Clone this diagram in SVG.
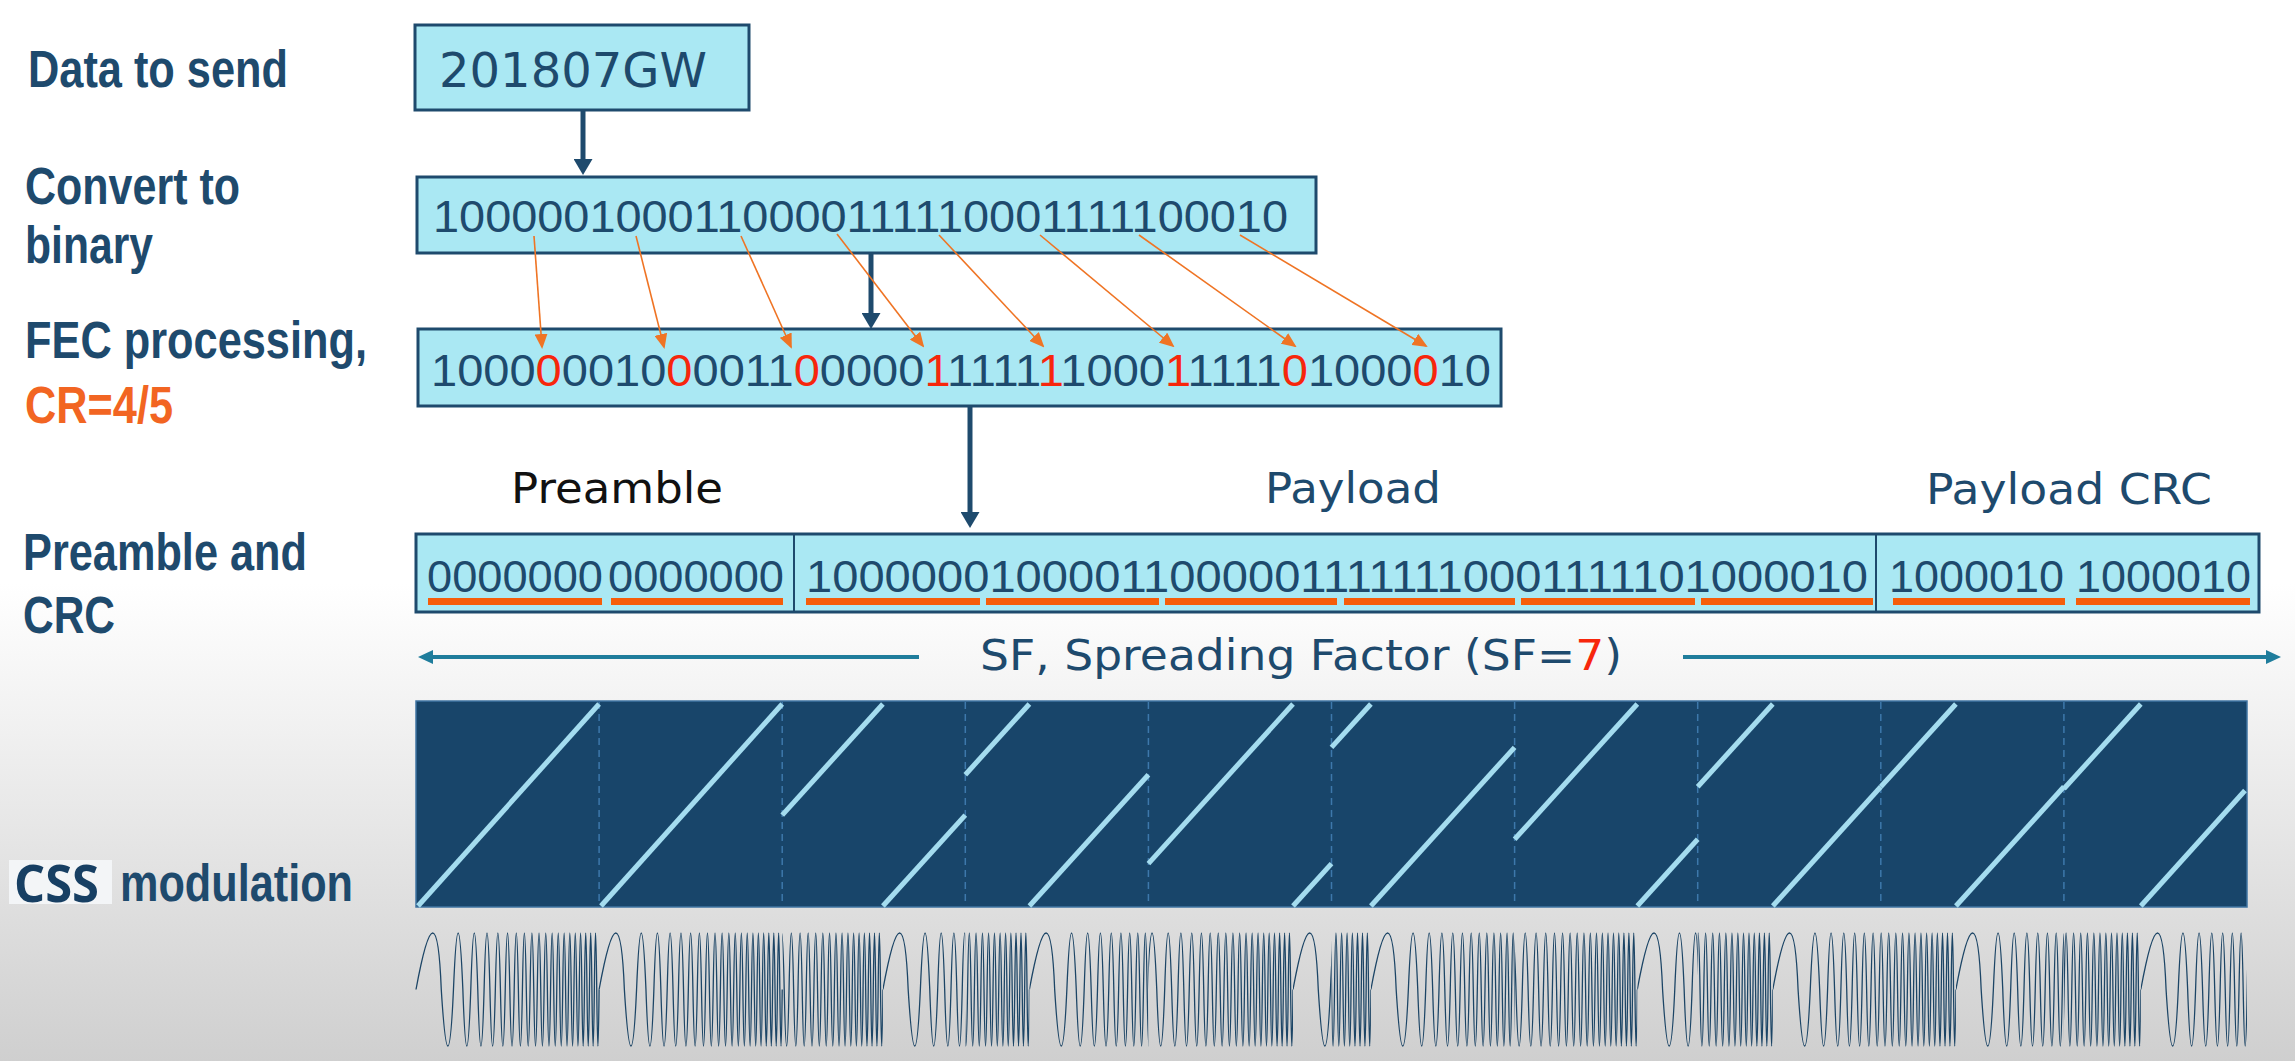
<svg xmlns="http://www.w3.org/2000/svg" xmlns:xlink="http://www.w3.org/1999/xlink" width="2295" height="1061" viewBox="0 0 2295 1061">
<defs>
<linearGradient id="bg" x1="0" y1="0" x2="0" y2="1">
<stop offset="0" stop-color="#ffffff"/>
<stop offset="0.55" stop-color="#ffffff"/>
<stop offset="1" stop-color="#cfcfcf"/>
</linearGradient>
<marker id="ah" viewBox="0 0 16 19" refX="6" refY="9.5" markerWidth="16" markerHeight="19" markerUnits="userSpaceOnUse" orient="auto"><path d="M0,0L16,9.5L0,19z" fill="#1e4a6d"/></marker>
<marker id="th" viewBox="0 0 15 14" refX="5" refY="7" markerWidth="15" markerHeight="14" markerUnits="userSpaceOnUse" orient="auto"><path d="M0,0L15,7L0,14z" fill="#1f7d9c"/></marker>
<marker id="oh" viewBox="0 0 15 13" refX="13" refY="6.5" markerWidth="15" markerHeight="13" markerUnits="userSpaceOnUse" orient="auto"><path d="M0,0L15,6.5L0,13z" fill="#ef7424"/></marker>
<path id="chirp" transform="scale(0.1831,1.13)" vector-effect="non-scaling-stroke" fill="none" stroke="#1c4566" stroke-width="1.3" d="M0,0 Q113.8,-100 138,0 Q176.9,100 204.6,0 Q230.3,-100 255.9,0 Q277.6,100 299.2,0 Q318.3,-100 337.4,0 Q354.7,100 371.9,0 Q387.8,-100 403.7,0 Q418.5,100 433.3,0 Q447.2,-100 461.1,0 Q474.3,100 487.4,0 Q499.9,-100 512.4,0 Q524.4,100 536.3,0 Q547.8,-100 559.2,0 Q570.2,100 581.2,0 Q591.9,-100 602.5,0 Q612.8,100 623.1,0 Q633.1,-100 643.1,0 Q652.8,100 662.4,0 Q671.9,-100 681.3,0 Q690.5,100 699.6,0 Q708.6,-100 717.5,0 Q726.3,100 735,0 Q743.6,-100 752.1,0 Q760.5,100 768.8,0 Q777,-100 785.2,0 Q793.3,100 801.3,0 Q809.2,-100 817,0 Q824.8,100 832.5,0 Q840.1,-100 847.7,0 Q855.2,100 862.6,0 Q870,-100 877.3,0 Q884.5,100 891.7,0 Q898.9,-100 906,0 Q913,100 920,0 Q926.9,-100 933.8,0 Q940.6,100 947.4,0 Q954.1,-100 960.8,0 Q967.4,100 974,0 Q980.6,-100 987.1,0 Q993.6,100 1000,0"/>
</defs>
<style>
.lbl{font-family:"Liberation Sans",Arial,sans-serif;font-weight:bold;font-size:51px;fill:#1e4a6d}
.box{fill:#aae8f3;stroke:#1e4a6d;stroke-width:3}
.bits{font-family:"Liberation Sans",Arial,sans-serif;font-size:45px;fill:#1e4a6d}
.sec{font-family:"DejaVu Sans","Liberation Sans",sans-serif;font-size:43px;fill:#1e4a6d}
.red{fill:#f7260c}
.ul{fill:#f55d0a}
.cl{stroke:#a4dcef;stroke-width:5}
.dv{stroke:#3d78ab;stroke-width:1.5;stroke-dasharray:7 5}
.darr{stroke:#1e4a6d;stroke-width:5;marker-end:url(#ah)}
.tarr{stroke:#1f7d9c;stroke-width:4;marker-end:url(#th)}
.oarr{stroke:#ef7424;stroke-width:1.6;marker-end:url(#oh)}
</style>
<rect x="0" y="0" width="2295" height="1061" fill="url(#bg)"/>

<g id="labels">
<text class="lbl" x="28" y="87" textLength="260" lengthAdjust="spacingAndGlyphs">Data to send</text>
<text class="lbl" x="25" y="204" textLength="215" lengthAdjust="spacingAndGlyphs">Convert to</text>
<text class="lbl" x="25" y="263" textLength="128" lengthAdjust="spacingAndGlyphs">binary</text>
<text class="lbl" x="25" y="358" textLength="342" lengthAdjust="spacingAndGlyphs">FEC processing,</text>
<text class="lbl" x="25" y="423" textLength="148" lengthAdjust="spacingAndGlyphs" style="fill:#f26522">CR=4/5</text>
<text class="lbl" x="23" y="570" textLength="284" lengthAdjust="spacingAndGlyphs">Preamble and</text>
<text class="lbl" x="23" y="633" textLength="92" lengthAdjust="spacingAndGlyphs">CRC</text>
<rect x="9" y="860" width="103" height="44" fill="#f3f5f7"/>
<text x="14" y="902" textLength="85" lengthAdjust="spacingAndGlyphs" style="font-family:'Open Sans','Liberation Sans',sans-serif;font-weight:bold;font-size:52px;fill:#173f63">CSS</text>
<text class="lbl" x="120" y="901" textLength="233" lengthAdjust="spacingAndGlyphs">modulation</text>
</g>

<g id="data-box">
<rect class="box" x="415" y="25" width="334" height="85"/>
<text x="439" y="87" textLength="268" lengthAdjust="spacingAndGlyphs" style="font-family:'DejaVu Sans','Liberation Sans',sans-serif;font-size:48px;fill:#1e4a6d">201807GW</text>
</g>

<g id="binary-box">
<rect class="box" x="417" y="177" width="899" height="76"/>
<text class="bits" x="433" y="232" textLength="855" lengthAdjust="spacingAndGlyphs">1000001000110000111110001111100010</text>
</g>

<g id="fec-box">
<rect class="box" x="418" y="329" width="1083" height="77"/>
<text class="bits" x="431" y="386" textLength="1060" lengthAdjust="spacingAndGlyphs">1000<tspan class="red">0</tspan>0010<tspan class="red">0</tspan>0011<tspan class="red">0</tspan>0000<tspan class="red">1</tspan>1111<tspan class="red">1</tspan>1000<tspan class="red">1</tspan>1111<tspan class="red">0</tspan>1000<tspan class="red">0</tspan>10</text>
</g>

<g id="packet-box">
<text class="sec" x="511" y="503" textLength="212" lengthAdjust="spacingAndGlyphs" style="fill:#111111">Preamble</text>
<text class="sec" x="1265" y="503" textLength="176" lengthAdjust="spacingAndGlyphs">Payload</text>
<text class="sec" x="1926" y="504" textLength="286" lengthAdjust="spacingAndGlyphs">Payload CRC</text>
<rect class="box" x="416" y="534" width="1843" height="78"/>
<line x1="794" y1="534" x2="794" y2="612" stroke="#1e4a6d" stroke-width="2"/>
<line x1="1876" y1="534" x2="1876" y2="612" stroke="#1e4a6d" stroke-width="2"/>
<text class="bits" x="427" y="592" textLength="176" lengthAdjust="spacingAndGlyphs">0000000</text>
<text class="bits" x="608" y="592" textLength="176" lengthAdjust="spacingAndGlyphs">0000000</text>
<text class="bits" x="806" y="592" textLength="1062" lengthAdjust="spacingAndGlyphs">100000010000110000011111110001111101000010</text>
<text class="bits" x="1889" y="592" textLength="175" lengthAdjust="spacingAndGlyphs">1000010</text>
<text class="bits" x="2076" y="592" textLength="175" lengthAdjust="spacingAndGlyphs">1000010</text>
<rect class="ul" x="428" y="598" width="174" height="7"/>
<rect class="ul" x="611" y="598" width="172" height="7"/>
<rect class="ul" x="806" y="598" width="174" height="7"/>
<rect class="ul" x="986" y="598" width="173" height="7"/>
<rect class="ul" x="1165" y="598" width="172" height="7"/>
<rect class="ul" x="1344" y="598" width="171" height="7"/>
<rect class="ul" x="1521" y="598" width="174" height="7"/>
<rect class="ul" x="1701" y="598" width="172" height="7"/>
<rect class="ul" x="1893" y="598" width="172" height="7"/>
<rect class="ul" x="2076" y="598" width="174" height="7"/>
</g>

<g id="sf-label">
<text class="sec" x="980" y="670" textLength="642" lengthAdjust="spacingAndGlyphs">SF, Spreading Factor (SF=<tspan class="red">7</tspan>)</text>
</g>

<g id="chirp-chart">
<rect x="416" y="701" width="1831" height="206" fill="#18456a" stroke="#3f74a2" stroke-width="1.5"/>
<line class="dv" x1="599.1" y1="702" x2="599.1" y2="906"/>
<line class="dv" x1="782.2" y1="702" x2="782.2" y2="906"/>
<line class="dv" x1="965.3" y1="702" x2="965.3" y2="906"/>
<line class="dv" x1="1148.4" y1="702" x2="1148.4" y2="906"/>
<line class="dv" x1="1331.5" y1="702" x2="1331.5" y2="906"/>
<line class="dv" x1="1514.6" y1="702" x2="1514.6" y2="906"/>
<line class="dv" x1="1697.7" y1="702" x2="1697.7" y2="906"/>
<line class="dv" x1="1880.8" y1="702" x2="1880.8" y2="906"/>
<line class="dv" x1="2063.9" y1="702" x2="2063.9" y2="906"/>
<line class="cl" x1="418" y1="906" x2="599.1" y2="704"/>
<line class="cl" x1="601" y1="906" x2="782.2" y2="704"/>
<line class="cl" x1="782.2" y1="815.1" x2="882.9" y2="704"/>
<line class="cl" x1="882.9" y1="906" x2="965.3" y2="815.1"/>
<line class="cl" x1="965.3" y1="774.7" x2="1029.4" y2="704"/>
<line class="cl" x1="1029.4" y1="906" x2="1148.4" y2="774.7"/>
<line class="cl" x1="1148.4" y1="863.6" x2="1293" y2="704"/>
<line class="cl" x1="1293" y1="906" x2="1331.5" y2="863.6"/>
<line class="cl" x1="1331.5" y1="747.4" x2="1370.9" y2="704"/>
<line class="cl" x1="1370.9" y1="906" x2="1514.6" y2="747.4"/>
<line class="cl" x1="1514.6" y1="839.3" x2="1637.3" y2="704"/>
<line class="cl" x1="1637.3" y1="906" x2="1697.7" y2="839.3"/>
<line class="cl" x1="1697.7" y1="786.8" x2="1772.8" y2="704"/>
<line class="cl" x1="1772.8" y1="906" x2="1880.8" y2="786.8"/>
<line class="cl" x1="1880.8" y1="786.8" x2="1955.9" y2="704"/>
<line class="cl" x1="1955.9" y1="906" x2="2063.9" y2="786.8"/>
<line class="cl" x1="2063.9" y1="788.8" x2="2140.8" y2="704"/>
<line class="cl" x1="2140.8" y1="906" x2="2245" y2="790.5"/>
</g>

<g id="waveform">
<use href="#chirp" x="416" y="989.5"/>
<use href="#chirp" x="599.1" y="989.5"/>
<svg x="782.2" y="920" width="100.7" height="140"><use href="#chirp" x="-82.4" y="69.5"/></svg>
<svg x="882.9" y="920" width="82.4" height="140"><use href="#chirp" x="0" y="69.5"/></svg>
<svg x="965.3" y="920" width="64.1" height="140"><use href="#chirp" x="-119" y="69.5"/></svg>
<svg x="1029.4" y="920" width="119" height="140"><use href="#chirp" x="0" y="69.5"/></svg>
<svg x="1148.4" y="920" width="144.6" height="140"><use href="#chirp" x="-38.5" y="69.5"/></svg>
<svg x="1293" y="920" width="38.5" height="140"><use href="#chirp" x="0" y="69.5"/></svg>
<svg x="1331.5" y="920" width="39.4" height="140"><use href="#chirp" x="-143.7" y="69.5"/></svg>
<svg x="1370.9" y="920" width="143.7" height="140"><use href="#chirp" x="0" y="69.5"/></svg>
<svg x="1514.6" y="920" width="122.7" height="140"><use href="#chirp" x="-60.4" y="69.5"/></svg>
<svg x="1637.3" y="920" width="60.4" height="140"><use href="#chirp" x="0" y="69.5"/></svg>
<svg x="1697.7" y="920" width="75.1" height="140"><use href="#chirp" x="-108" y="69.5"/></svg>
<svg x="1772.8" y="920" width="108" height="140"><use href="#chirp" x="0" y="69.5"/></svg>
<svg x="1880.8" y="920" width="75.1" height="140"><use href="#chirp" x="-108" y="69.5"/></svg>
<svg x="1955.9" y="920" width="108" height="140"><use href="#chirp" x="0" y="69.5"/></svg>
<svg x="2063.9" y="920" width="76.9" height="140"><use href="#chirp" x="-106.2" y="69.5"/></svg>
<svg x="2140.8" y="920" width="106.2" height="140"><use href="#chirp" x="0" y="69.5"/></svg>
</g>

<g id="connectors">
<line class="darr" x1="583" y1="110" x2="583" y2="165"/>
<line class="darr" x1="871" y1="253" x2="871" y2="319"/>
<line class="darr" x1="970" y1="407" x2="970" y2="518"/>
<line class="oarr" x1="534" y1="236" x2="542" y2="347"/>
<line class="oarr" x1="636" y1="236" x2="664" y2="347"/>
<line class="oarr" x1="741" y1="236" x2="791" y2="347"/>
<line class="oarr" x1="837" y1="234" x2="923" y2="346"/>
<line class="oarr" x1="939" y1="235" x2="1043" y2="346"/>
<line class="oarr" x1="1040" y1="235" x2="1173" y2="346"/>
<line class="oarr" x1="1139" y1="235" x2="1295" y2="346"/>
<line class="oarr" x1="1240" y1="235" x2="1426" y2="346"/>
<line class="tarr" x1="919" y1="657" x2="428" y2="657"/>
<line class="tarr" x1="1683" y1="657" x2="2271" y2="657"/>
</g>
</svg>
